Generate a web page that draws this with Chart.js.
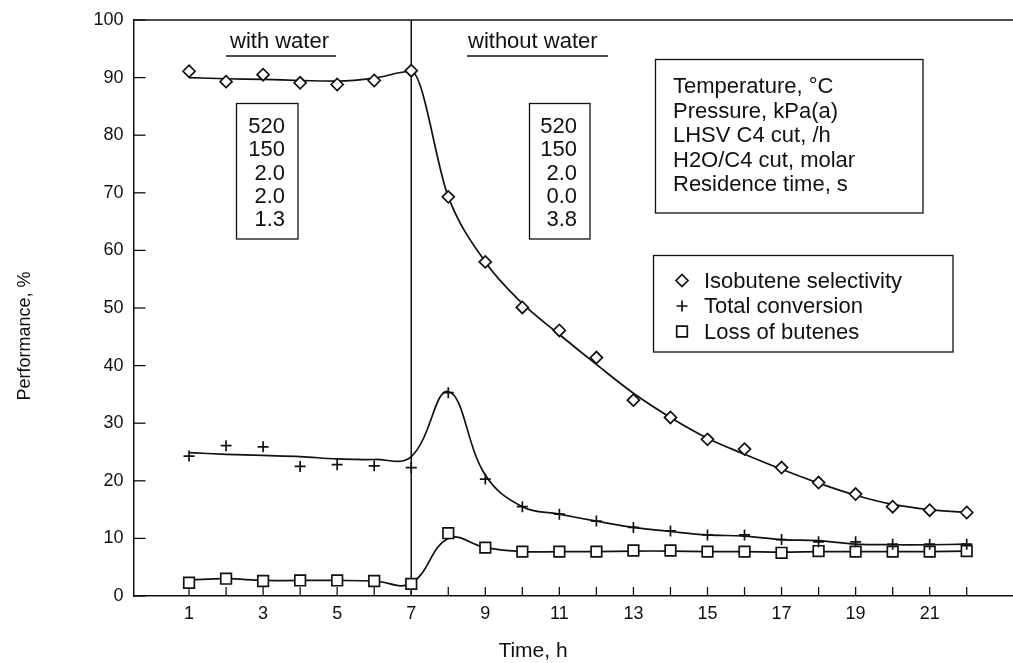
<!DOCTYPE html>
<html>
<head>
<meta charset="utf-8">
<title>Performance vs time</title>
<script src="https://cdn.jsdelivr.net/npm/chart.js@4.4.1/dist/chart.umd.min.js"></script>
<style>
    html, body { margin: 0; padding: 0; background: #fff; }
    canvas { display: block; }
</style>
</head>
<body>
<canvas id="chart_performance" width="1013" height="663"></canvas>
<script>
const canvas = document.getElementById("chart_performance");

// measured values
const hours = [1, 2, 3, 4, 5, 6, 7, 8, 9, 10, 11, 12, 13, 14, 15, 16, 17, 18, 19, 20, 21, 22];
const selectivity = [91.1, 89.3, 90.5, 89.1, 88.8, 89.5, 91.2, 69.3, 58.0, 50.1, 46.1, 41.4, 34.0, 31.0, 27.2, 25.5, 22.3, 19.7, 17.7, 15.5, 14.9, 14.5];
const conversion = [24.3, 26.1, 25.9, 22.5, 22.8, 22.6, 22.3, 35.3, 20.3, 15.5, 14.2, 13.0, 11.9, 11.3, 10.6, 10.6, 9.8, 9.4, 9.4, 9.0, 9.0, 9.0];
const loss = [2.3, 3.0, 2.6, 2.7, 2.7, 2.6, 2.1, 10.9, 8.4, 7.7, 7.7, 7.7, 7.9, 7.9, 7.7, 7.7, 7.5, 7.8, 7.7, 7.7, 7.7, 7.8];

// smoothed trend lines
const selectivityFit = [90.0, 89.8, 89.7, 89.5, 89.4, 89.9, 91.1, 69.3, 58.0, 50.8, 45.4, 40.2, 35.2, 31.0, 27.4, 24.6, 22.0, 19.6, 17.5, 15.9, 15.0, 14.5];
const conversionFit = [24.9, 24.6, 24.4, 24.2, 23.8, 23.7, 24.2, 35.5, 21.0, 15.5, 14.2, 13.0, 11.9, 11.2, 10.6, 10.4, 9.8, 9.6, 9.0, 8.9, 8.9, 9.0];
const lossFit = [2.8, 3.0, 2.7, 2.7, 2.7, 2.6, 2.2, 10.0, 8.4, 7.7, 7.7, 7.7, 7.8, 7.8, 7.7, 7.7, 7.6, 7.7, 7.7, 7.7, 7.7, 7.8];

const yTicks = [0, 10, 20, 30, 40, 50, 60, 70, 80, 90, 100];
const waterOffAt = 7;

const seriesNames = ['Isobutene selectivity', 'Total conversion', 'Loss of butenes'];
const conditionNames = ['Temperature, °C', 'Pressure, kPa(a)', 'LHSV C4 cut, /h', 'H2O/C4 cut, molar', 'Residence time, s'];
const withWater = ['520', '150', '2.0', '2.0', '1.3'];
const withoutWater = ['520', '150', '2.0', '0.0', '3.8'];

const FONT = "'Liberation Sans', Arial, sans-serif";
const INK = '#111';

const toPoints = (values) => hours.map((h, i) => ({ x: h, y: values[i] }));

const markerSet = (name, values, style, radius) => ({
    label: name,
    data: toPoints(values),
    showLine: false,
    pointStyle: style,
    pointRadius: radius,
    pointBorderWidth: 1.7,
    pointBorderColor: INK,
    pointBackgroundColor: '#fff',
    borderColor: INK,
    backgroundColor: '#fff',
    order: 0
});

const fitSet = (values, mode) => ({
    label: '',
    data: toPoints(values),
    showLine: true,
    pointRadius: 0,
    borderColor: INK,
    borderWidth: 1.7,
    tension: 0.4,
    cubicInterpolationMode: mode,
    fill: false,
    order: 1
});

const datasets = [
    markerSet(seriesNames[0], selectivity, 'rectRot', 6),
    markerSet(seriesNames[1], conversion, 'cross', 5.5),
    markerSet(seriesNames[2], loss, 'rect', 7.5),
    fitSet(selectivityFit, 'monotone'),
    fitSet(conversionFit, 'default'),
    fitSet(lossFit, 'default')
];

function drawMarker(c, style, x, y, r) {
    c.beginPath();
    if (style === 'rectRot') {
        c.moveTo(x - r, y);
        c.lineTo(x, y - r);
        c.lineTo(x + r, y);
        c.lineTo(x, y + r);
        c.closePath();
        c.fillStyle = '#fff';
        c.fill();
    } else if (style === 'rect') {
        const h = r * Math.SQRT1_2;
        c.rect(x - h, y - h, 2 * h, 2 * h);
        c.fillStyle = '#fff';
        c.fill();
    } else {
        c.moveTo(x - r, y);
        c.lineTo(x + r, y);
        c.moveTo(x, y - r);
        c.lineTo(x, y + r);
    }
    c.stroke();
}

const decorations = {
    id: 'decorations',
    beforeDatasetsDraw(chart) {
        const c = chart.ctx;
        const area = chart.chartArea;
        const xs = chart.scales.x;
        const ys = chart.scales.y;
        c.save();
        c.strokeStyle = INK;
        c.lineWidth = 1.5;

        // top frame line
        c.beginPath();
        c.moveTo(area.left, area.top);
        c.lineTo(area.right, area.top);
        c.stroke();

        // inward tick marks
        c.lineWidth = 1.3;
        hours.forEach(h => {
            const px = xs.getPixelForValue(h);
            c.beginPath();
            c.moveTo(px, area.bottom);
            c.lineTo(px, area.bottom - 9);
            c.stroke();
        });
        yTicks.forEach(v => {
            const py = ys.getPixelForValue(v);
            c.beginPath();
            c.moveTo(area.left, py);
            c.lineTo(area.left + 12, py);
            c.stroke();
        });

        // water switched off
        const sx = xs.getPixelForValue(waterOffAt);
        c.lineWidth = 1.5;
        c.beginPath();
        c.moveTo(sx, area.top);
        c.lineTo(sx, area.bottom);
        c.stroke();
        c.restore();
    },
    afterDraw(chart) {
        const c = chart.ctx;
        c.save();
        c.strokeStyle = INK;
        c.fillStyle = INK;
        c.lineWidth = 1.3;

        // period headers
        c.font = '22px ' + FONT;
        c.textAlign = 'left';
        c.textBaseline = 'alphabetic';
        c.fillText('with water', 230, 48);
        c.fillText('without water', 468, 48);
        c.lineWidth = 1.6;
        c.beginPath();
        c.moveTo(226, 56); c.lineTo(336, 56);
        c.moveTo(467, 56); c.lineTo(608, 56);
        c.stroke();

        // operating conditions
        c.lineWidth = 1.3;
        c.strokeRect(236.5, 103.5, 61.5, 135.5);
        c.strokeRect(529.5, 103.5, 60.5, 135.5);
        c.strokeRect(655.5, 59.5, 267.5, 153.5);
        c.textAlign = 'right';
        withWater.forEach((t, i) => c.fillText(t, 285, 133 + i * 23.3));
        withoutWater.forEach((t, i) => c.fillText(t, 577, 133 + i * 23.3));
        c.textAlign = 'left';
        conditionNames.forEach((t, i) => c.fillText(t, 673, 93 + i * 24.5));

        // legend
        c.strokeRect(653.5, 255.5, 299.5, 96.5);
        const styles = [['rectRot', 6], ['cross', 5.5], ['rect', 7.5]];
        c.textBaseline = 'middle';
        seriesNames.forEach((name, i) => {
            const y = 280.5 + i * 25.5;
            c.lineWidth = 1.7;
            drawMarker(c, styles[i][0], 682, y, styles[i][1]);
            c.fillStyle = INK;
            c.fillText(name, 704, y + 1);
        });

        // axis titles
        c.font = '21px ' + FONT;
        c.textAlign = 'center';
        c.fillText('Time, h', 533, 651);
        c.translate(25, 336);
        c.rotate(-Math.PI / 2);
        c.font = '18px ' + FONT;
        c.fillText('Performance, %', 0, 0);
        c.restore();
    }
};

new Chart(canvas, {
    type: 'scatter',
    data: { datasets: datasets },
    plugins: [decorations],
    options: {
        responsive: false,
        animation: false,
        devicePixelRatio: 1,
        layout: {
            autoPadding: false,
            padding: { top: 20, right: 0, bottom: 0, left: 0 }
        },
        plugins: {
            legend: { display: false },
            tooltip: { enabled: false }
        },
        scales: {
            x: {
                type: 'linear',
                min: -0.5,
                max: 23.25,
                afterBuildTicks: (axis) => {
                    axis.ticks = hours.filter(h => h % 2 === 1).map(h => ({ value: h }));
                },
                afterFit: (axis) => {
                    axis.height = 67;
                    axis.paddingLeft = 0;
                    axis.paddingRight = 0;
                },
                grid: { display: false, drawTicks: false },
                border: { display: true, color: INK, width: 1.5 },
                ticks: {
                    color: INK,
                    padding: 7,
                    maxRotation: 0,
                    font: { family: FONT, size: 18 }
                }
            },
            y: {
                type: 'linear',
                min: 0,
                max: 100,
                afterBuildTicks: (axis) => {
                    axis.ticks = yTicks.map(v => ({ value: v }));
                },
                afterFit: (axis) => {
                    axis.width = 133.5;
                    axis.paddingTop = 0;
                    axis.paddingBottom = 0;
                },
                grid: { display: false, drawTicks: false },
                border: { display: true, color: INK, width: 1.5 },
                ticks: {
                    color: INK,
                    padding: 10,
                    font: { family: FONT, size: 18 }
                }
            }
        }
    }
});
</script>
</body>
</html>
